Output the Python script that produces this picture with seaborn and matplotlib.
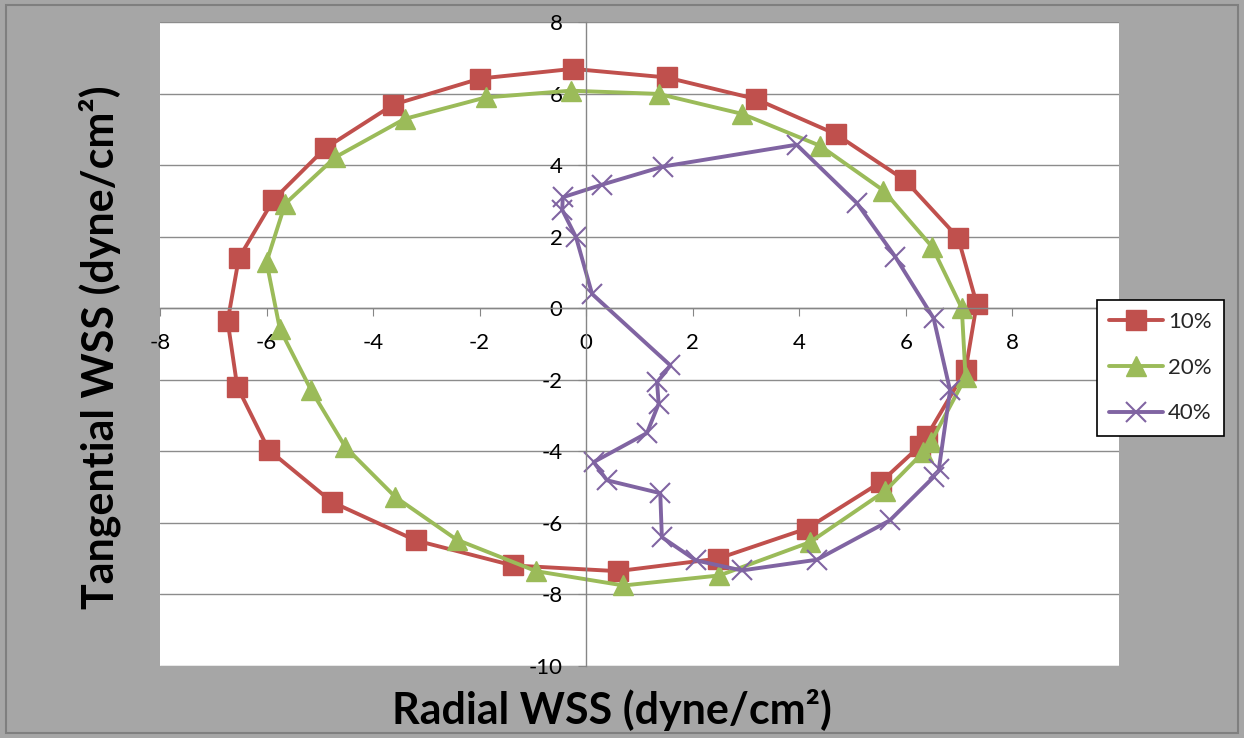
import numpy as np
import pandas as pd
import seaborn as sns
from matplotlib import pyplot as plt
from matplotlib.patches import Rectangle

# radial / tangential WSS (dyne/cm^2)
x10 = [6.40, 7.12, 7.33, 6.98, 5.99, 4.68, 3.18, 1.51, -0.25, -1.99, -3.62, -4.90, -5.87,
       -6.52, -6.73, -6.55, -5.96, -4.77, -3.20, -1.38, 0.59, 2.47, 4.14, 5.53, 6.27]
y10 = [-3.56, -1.74, 0.12, 1.97, 3.57, 4.87, 5.85, 6.45, 6.69, 6.42, 5.69, 4.47, 3.03,
       1.40, -0.36, -2.19, -3.96, -5.42, -6.49, -7.19, -7.35, -7.00, -6.16, -4.86, -3.84]

x20 = [6.47, 7.12, 7.05, 6.49, 5.58, 4.39, 2.93, 1.36, -0.29, -1.89, -3.41, -4.71, -5.65,
       -6.00, -5.75, -5.16, -4.52, -3.58, -2.43, -0.94, 0.70, 2.50, 4.20, 5.61, 6.33]
y20 = [-3.74, -1.93, 0.00, 1.72, 3.29, 4.54, 5.43, 5.99, 6.08, 5.89, 5.29, 4.22, 2.92,
       1.29, -0.58, -2.30, -3.88, -5.28, -6.47, -7.35, -7.75, -7.47, -6.54, -5.11, -4.02]

x40 = [6.62, 6.83, 6.52, 5.80, 5.08, 3.95, 1.44, 0.29, -0.44, -0.45, -0.19, 0.11, 1.58,
       1.33, 1.36, 1.14, 0.14, 0.39, 1.39, 1.42, 2.06, 2.92, 4.33, 5.70, 6.52]
y40 = [-4.49, -2.30, -0.28, 1.44, 2.94, 4.57, 3.96, 3.45, 3.10, 2.75, 1.98, 0.40, -1.60,
       -2.07, -2.67, -3.49, -4.30, -4.81, -5.17, -6.40, -7.05, -7.33, -7.03, -5.93, -4.72]

labels = ['10%', '20%', '40%']
xticks = [-8, -6, -4, -2, 0, 2, 4, 6, 8]
yticks = [-10, -8, -6, -4, -2, 0, 2, 4, 6, 8]

sns.set_style('white')
plt.rcParams['font.family'] = ['Lato', 'DejaVu Sans']
plt.rcParams['axes.unicode_minus'] = False

fig = plt.figure(figsize=(12.44, 7.38), dpi=100, facecolor='#A6A6A6')
fig.patches.append(Rectangle((6 / 1244, 5 / 738), 1 - 12 / 1244, 1 - 10 / 738,
                             transform=fig.transFigure, fill=False,
                             edgecolor='#7F7F7F', lw=1.5))
ax = fig.add_axes([0.1286, 0.0976, 0.7709, 0.8726])
ax.set_facecolor('white')

red, green, purple = '#C0504D', '#9BBB59', '#8064A2'
sns.lineplot(x=x10, y=y10, sort=False, estimator=None, color=red, lw=2.8,
             marker='s', markersize=14, mec=red, mew=1, label=labels[0], ax=ax)
sns.lineplot(x=x20, y=y20, sort=False, estimator=None, color=green, lw=2.8,
             marker='^', markersize=15, mec=green, mew=1, label=labels[1], ax=ax)
sns.lineplot(x=x40, y=y40, sort=False, estimator=None, color=purple, lw=2.8,
             marker='x', markersize=14, mec=purple, mew=1.5, label=labels[2], ax=ax)

ax.set_xlim(-8, 10)
ax.set_ylim(-10, 8)
ax.set_xticks(xticks)
ax.set_yticks(yticks)
ax.yaxis.grid(True, color='#8C8C8C', lw=1)
ax.xaxis.grid(False)
ax.set_axisbelow(True)

for s in ['top', 'right']:
    ax.spines[s].set_visible(False)
ax.spines['left'].set_position(('data', 0))
ax.spines['bottom'].set_position(('data', 0))
for s in ['left', 'bottom']:
    ax.spines[s].set_color('#868686')
    ax.spines[s].set_linewidth(1)
ax.tick_params(axis='x', direction='out', length=6, color='#868686', pad=12,
               labelsize=16, labelcolor='black', bottom=True)
ax.tick_params(axis='y', direction='out', length=6, color='#868686', pad=11,
               labelsize=16, labelcolor='black', left=True)

ax.get_legend().remove()
handles, labs = ax.get_legend_handles_labels()
leg = fig.legend(handles, labs, loc='upper left',
                 bbox_to_anchor=(1097 / 1244, 1 - 300 / 738), borderaxespad=0,
                 fontsize=16, frameon=True, fancybox=False, edgecolor='black',
                 framealpha=1, handlelength=2.4, handletextpad=0.25,
                 labelspacing=1.15, borderpad=0.55)
leg.get_frame().set_linewidth(1.2)

fig.text(612 / 1244, 1 - 710 / 738, 'Radial WSS (dyne/cm²)', ha='center', va='center',
         fontsize=31, fontweight='bold', color='black')
fig.text(100 / 1244, 1 - 347 / 738, 'Tangential WSS (dyne/cm²)', ha='center', va='center',
         rotation=90, fontsize=31, fontweight='bold', color='black')

fig.savefig('out.png', dpi=100, facecolor=fig.get_facecolor())
